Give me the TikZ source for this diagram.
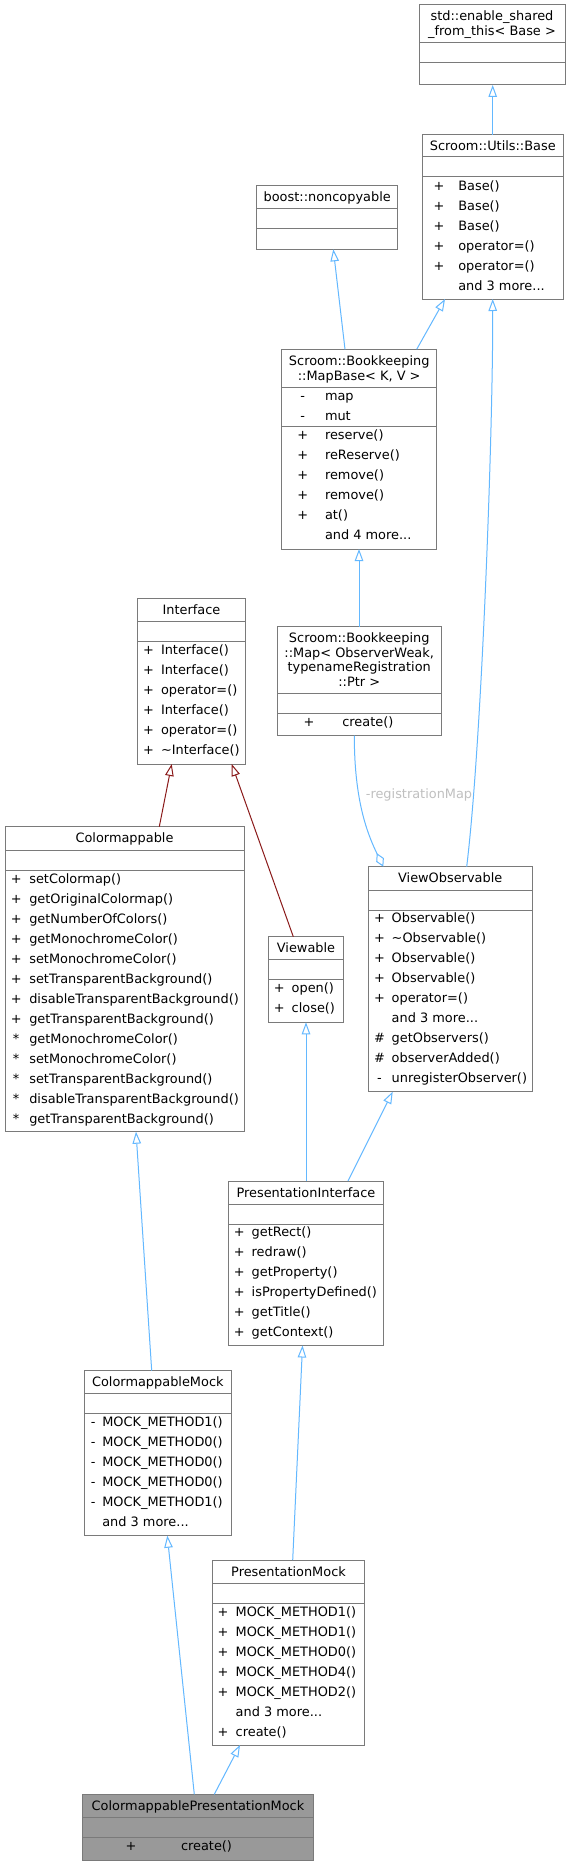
\documentclass[tikz,border=0pt]{standalone}
\usepackage{fontspec}
\setmainfont{DejaVu Sans}
\usetikzlibrary{arrows.meta}
\definecolor{boxgray}{HTML}{7A7A7A}
\definecolor{cpgray}{HTML}{999999}
\definecolor{pubblue}{HTML}{63B8FF}
\definecolor{privred}{HTML}{8B1A1A}
\definecolor{lblgray}{HTML}{C0C0C0}
\newcommand\tdots{...}
\newcommand\classbox[8]{%
  \node[box, fill=#8, minimum width={(#4-#2)*1pt}, minimum height={(#7-#3)*1pt}, anchor=north west] (#1) at (#2,#3) {};
  \draw[boxline] (#2,#5) -- (#4,#5);
  \draw[boxline] (#2,#6) -- (#4,#6);
}
\newcommand\titlelines[4]{%
  \foreach \tl [count=\ri from 0] in {#4}{\node[txt, anchor=base] (#1-t\ri) at (#2, {#3+14.7*\ri}) {\tl};}}
\newcommand\members[5]{%
  \foreach \msym/\mtxt [count=\ri from 0] in {#5}{%
    \node[txt, anchor=base] (#1-s\ri) at (#2, {#4+4.1+20*\ri}) {\msym};
    \node[txt, anchor=base west] (#1-m\ri) at (#3, {#4+4.1+20*\ri}) {\mtxt};
  }}
\tikzset{
  box/.style={draw=boxgray, line width=1pt, inner sep=0pt, outer sep=0pt},
  boxline/.style={draw=boxgray, line width=1pt},
  txt/.style={inner sep=0pt, outer sep=0pt, font=\fontsize{12.9}{15}\selectfont, text=black},
  lbl/.style={inner sep=0pt, font=\fontsize{12.9}{15}\selectfont, text=lblgray},
  pub/.style={draw=pubblue, line width=1pt, -{Triangle[open, length=12pt, width=8.5pt]}},
  priv/.style={draw=privred, line width=1pt, -{Triangle[open, length=12pt, width=8.5pt]}},
  agg/.style={draw=pubblue, line width=1pt, -{Diamond[open, length=15pt, width=8.5pt]}},
}
\begin{document}
\begin{tikzpicture}[x=1pt,y=-1pt]
\fill[white] (0,0) rectangle (571,1865);
\useasboundingbox (0,0) rectangle (571,1865);

% std::enable_shared_from_this
\classbox{enable}{419}{5}{565}{42.7}{62.3}{85}{white}
\titlelines{enable}{492}{21}{std::enable\_shared,\_from\_this< Base >}

% Scroom::Utils::Base
\classbox{utilsbase}{422.3}{135}{563.3}{156.7}{176.7}{299}{white}
\titlelines{utilsbase}{492.8}{150.4}{Scroom::Utils::Base}
\members{utilsbase}{439}{458.3}{186}{+/Base(),+/Base(),+/Base(),+/operator=(),+/operator=(),/and 3 more\tdots}

% boost::noncopyable
\classbox{noncopyable}{256.7}{185}{397.7}{208.3}{228.3}{249.3}{white}
\titlelines{noncopyable}{327.2}{201.2}{boost::noncopyable}

% MapBase
\classbox{mapbase}{281.7}{349.3}{436.7}{387.3}{426.7}{549}{white}
\titlelines{mapbase}{359.2}{365.5}{Scroom::Bookkeeping,{::MapBase< K, V >}}
\members{mapbase-a}{302.7}{325}{396}{-/map,-/mut}
\members{mapbase}{302.7}{325}{435.7}{+/reserve(),+/reReserve(),+/remove(),+/remove(),+/at(),/and 4 more\tdots}

% Map
\classbox{map}{277.3}{626.7}{441}{693.3}{713.3}{735.7}{white}
\titlelines{map}{359.2}{642.5}{Scroom::Bookkeeping,{::Map< ObserverWeak,},typenameRegistration,::Ptr >}
\members{map}{309}{342.3}{722.3}{+/create()}

% Interface
\classbox{interface}{137.3}{598.3}{245.7}{621.7}{641.7}{764}{white}
\titlelines{interface}{191.5}{614.5}{Interface}
\members{interface}{148.5}{161}{650.7}{+/Interface(),+/Interface(),+/operator=(),+/Interface(),+/operator=(),+/\textasciitilde Interface()}

% Colormappable
\classbox{colormappable}{5}{826.7}{244}{850}{870}{1131.7}{white}
\titlelines{colormappable}{124.5}{842.8}{Colormappable}
\members{colormappable}{16.2}{29.3}{879.3}{+/setColormap(),+/getOriginalColormap(),+/getNumberOfColors(),+/getMonochromeColor(),+/setMonochromeColor(),+/setTransparentBackground(),+/disableTransparentBackground(),+/getTransparentBackground(),*/getMonochromeColor(),*/setMonochromeColor(),*/setTransparentBackground(),*/disableTransparentBackground(),*/getTransparentBackground()}

% Viewable
\classbox{viewable}{268.7}{936.7}{343.3}{959}{979.3}{1022.3}{white}
\titlelines{viewable}{306}{952.3}{Viewable}
\members{viewable}{279.3}{291.7}{988.3}{+/open(),+/close()}

% ViewObservable
\classbox{viewobservable}{368.3}{866.7}{532}{890}{910}{1091.7}{white}
\titlelines{viewobservable}{450.2}{882.8}{ViewObservable}
\members{viewobservable}{379.5}{391.7}{918.3}{+/Observable(),+/\textasciitilde Observable(),+/Observable(),+/Observable(),+/operator=(),/and 3 more\tdots,\#/getObservers(),\#/observerAdded(),-/unregisterObserver()}

% PresentationInterface
\classbox{presint}{228.5}{1181}{383.3}{1204}{1224}{1345.5}{white}
\titlelines{presint}{305.9}{1197}{PresentationInterface}
\members{presint}{239.2}{251.7}{1232.3}{+/getRect(),+/redraw(),+/getProperty(),+/isPropertyDefined(),+/getTitle(),+/getContext()}

% ColormappableMock
\classbox{cmock}{84}{1370.7}{231.7}{1393.3}{1413.3}{1535.7}{white}
\titlelines{cmock}{157.8}{1386.5}{ColormappableMock}
\members{cmock}{93.3}{102.3}{1422.3}{-/MOCK\_METHOD1(),-/MOCK\_METHOD0(),-/MOCK\_METHOD0(),-/MOCK\_METHOD0(),-/MOCK\_METHOD1(),/and 3 more\tdots}

% PresentationMock
\classbox{pmock}{212.7}{1560}{364.3}{1583.3}{1603.3}{1745}{white}
\titlelines{pmock}{288.5}{1576.2}{PresentationMock}
\members{pmock}{223}{235.7}{1612.3}{+/MOCK\_METHOD1(),+/MOCK\_METHOD1(),+/MOCK\_METHOD0(),+/MOCK\_METHOD4(),+/MOCK\_METHOD2(),/and 3 more\tdots,+/create()}

% ColormappablePresentationMock
\classbox{cpmock}{82.7}{1794.3}{313.3}{1817.3}{1837.7}{1860}{cpgray}
\titlelines{cpmock}{198}{1810.3}{ColormappablePresentationMock}
\members{cpmock}{131}{181}{1846.7}{+/create()}

% connectors
\draw[pub] (utilsbase.north -| 492.7,0) -- (enable.south -| 492.7,0);
\draw[pub] (mapbase.north -| 345,0) -- (noncopyable.south -| 333.3,0);
\draw[pub] (mapbase.north -| 416.7,0) -- (utilsbase.south -| 445,0);
\draw[pub] (map.north -| 359,0) -- (mapbase.south -| 359,0);
\draw[pub] (viewobservable.north -| 466.7,0) .. controls (482,740) and (493,430) .. (utilsbase.south -| 492.7,0);
\draw[priv] (colormappable.north -| 159.3,0) -- (interface.south -| 171.7,0);
\draw[priv] (viewable.north -| 293.3,0) -- (interface.south -| 231.7,0);
\draw[pub] (presint.north -| 306,0) -- (viewable.south -| 306,0);
\draw[pub] (presint.north -| 348,0) -- (viewobservable.south -| 392.7,0);
\draw[agg] (map.south -| 354.3,0) .. controls (354.3,800) and (367,833) .. (viewobservable.north -| 383.3,0);
\node[lbl] (regmap) at (419,795) {-registrationMap};
\draw[pub] (cmock.north -| 151.7,0) -- (colormappable.south -| 136,0);
\draw[pub] (pmock.north -| 292.7,0) -- (presint.south -| 302.5,0);
\draw[pub] (cpmock.north -| 194.3,0) -- (cmock.south -| 167.3,0);
\draw[pub] (cpmock.north -| 214.3,0) -- (pmock.south -| 240,0);
\end{tikzpicture}
\end{document}
